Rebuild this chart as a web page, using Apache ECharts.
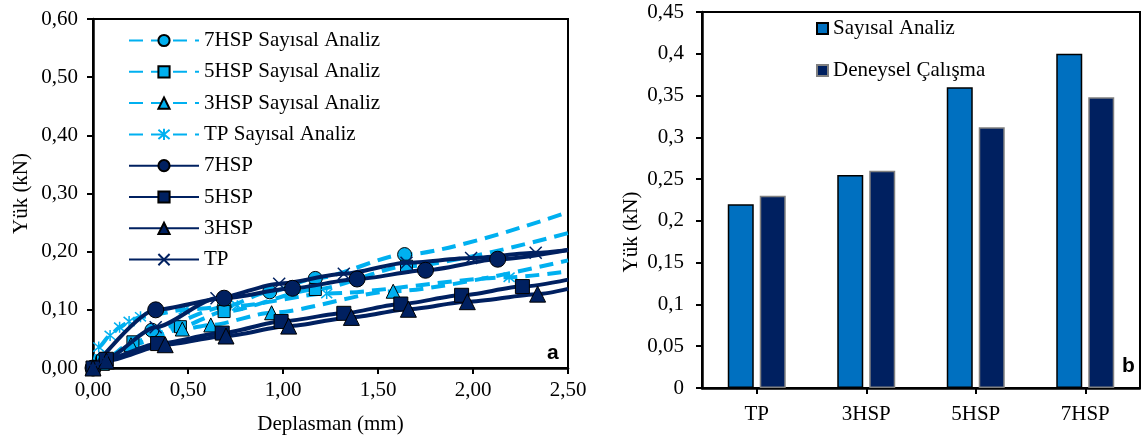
<!DOCTYPE html>
<html>
<head>
<meta charset="utf-8">
<script src="https://cdn.jsdelivr.net/npm/echarts@6/dist/echarts.min.js"></script>
<style>
html,body{margin:0;padding:0;background:#fff;}
#c{width:1141px;height:441px;}
</style>
</head>
<body>
<div id="c"></div>
<script>
// ---- Data ----
// Panel a: load (kN) vs displacement (mm)
const say7HSP = [[0,0],[0.05,0.015],[0.31,0.065],[0.69,0.105],[0.93,0.131],[1.17,0.154],[1.64,0.195],[2.5,0.268]];
const say5HSP = [[0,0],[0.05,0.012],[0.21,0.045],[0.46,0.071],[0.69,0.097],[1.17,0.135],[1.65,0.175],[2.5,0.232]];
const say3HSP = [[0,0],[0.05,0.008],[0.20,0.040],[0.47,0.067],[0.62,0.074],[0.94,0.095],[1.58,0.132],[2.5,0.185]];
const sayTP   = [[0,0],[0.03,0.036],[0.09,0.056],[0.14,0.070],[0.19,0.080],[0.25,0.088],[0.48,0.100],[0.76,0.107],[1.23,0.128],[2.19,0.156],[2.5,0.166]];
const exp7HSP = [[0,0],[0.33,0.100],[0.69,0.120],[1.05,0.137],[1.39,0.153],[1.75,0.168],[2.13,0.187],[2.5,0.203]];
const exp5HSP = [[0,0],[0.07,0.015],[0.34,0.042],[0.68,0.060],[0.99,0.080],[1.32,0.094],[1.62,0.110],[1.94,0.125],[2.26,0.140],[2.5,0.152]];
const exp3HSP = [[0,0],[0.07,0.012],[0.38,0.040],[0.70,0.055],[1.03,0.072],[1.36,0.087],[1.66,0.101],[1.97,0.114],[2.34,0.127],[2.5,0.136]];
const expTP   = [[0,0],[0.06,0.015],[0.33,0.070],[0.65,0.120],[0.98,0.145],[1.32,0.162],[1.65,0.181],[1.99,0.189],[2.33,0.198],[2.5,0.203]];

// Panel b: peak load (kN)
const categories = ['TP','3HSP','5HSP','7HSP'];
const sayisalAnaliz = [0.22,0.255,0.36,0.40];
const deneyselCalisma = [0.23,0.26,0.312,0.348];

// ---- Styles ----
const SERIF = '"Liberation Serif","Times New Roman",serif';
const FS = 21;
const LIGHT = '#00B0F0';
const NAVY = '#002060';
const XPATH = 'path://M0,0L10,10M10,0L0,10';
const STARPATH = 'path://M0,0L10,10M10,0L0,10M5,-1L5,11';

// last point (axis end) drawn without a marker
function pts(arr){
  return arr.map((p,i)=> i===arr.length-1 ? {value:p, symbol:'none'} : p);
}
function saySeries(name, data, symbol, size, isPath){
  return {
    name, type:'line', xAxisIndex:0, yAxisIndex:0, data:pts(data),
    smooth:0.25, smoothMonotone:'x', symbol, symbolSize:size, clip:true,
    lineStyle:{color:LIGHT, width:4, type:[14,8]},
    itemStyle: isPath ? {color:'rgba(0,0,0,0)', borderColor:LIGHT, borderWidth:1.5}
                      : {color:LIGHT, borderColor:'#000', borderWidth:1},
    z:2
  };
}
function expSeries(name, data, symbol, size, isPath){
  return {
    name, type:'line', xAxisIndex:0, yAxisIndex:0, data:pts(data),
    smooth:0.25, smoothMonotone:'x', symbol, symbolSize:size, clip:true,
    lineStyle:{color:NAVY, width:4, type:'solid'},
    itemStyle: isPath ? {color:'rgba(0,0,0,0)', borderColor:NAVY, borderWidth:1.5}
                      : {color:NAVY, borderColor:'#000', borderWidth:1},
    z:3
  };
}

const axisLbl = {color:'#000', fontFamily:SERIF, fontSize:FS};
const chart = echarts.init(document.getElementById('c'), null, {renderer:'canvas'});

chart.setOption({
  animation:false,
  backgroundColor:'#fff',
  grid:[
    {left:93, top:19, width:475, height:349, show:true, borderColor:'#000', borderWidth:2, backgroundColor:'transparent'},
    {left:702, top:12, width:438, height:376, show:true, borderColor:'#000', borderWidth:2, backgroundColor:'transparent'}
  ],
  xAxis:[
    {type:'value', gridIndex:0, min:0, max:2.5, interval:0.5,
     name:'Deplasman (mm)', nameLocation:'middle', nameGap:46,
     nameTextStyle:{color:'#000', fontFamily:SERIF, fontSize:FS},
     axisLine:{lineStyle:{color:'#000', width:2.5}},
     axisTick:{show:true, inside:false, length:6, lineStyle:{color:'#000', width:2}},
     axisLabel:Object.assign({margin:12, formatter:v=>v.toFixed(2).replace('.',',')}, axisLbl),
     splitLine:{show:false}},
    {type:'category', gridIndex:1, data:categories,
     axisLine:{lineStyle:{color:'#000', width:2.5}},
     axisTick:{show:true, alignWithLabel:true, length:6, lineStyle:{color:'#000', width:2}},
     axisLabel:Object.assign({margin:16}, axisLbl),
     splitLine:{show:false}}
  ],
  yAxis:[
    {type:'value', gridIndex:0, min:0, max:0.6, interval:0.1,
     name:'Yük (kN)', nameLocation:'middle', nameGap:61, nameMoveOverlap:false,
     nameTextStyle:{color:'#000', fontFamily:SERIF, fontSize:FS},
     axisLine:{show:true, lineStyle:{color:'#000', width:2.5}},
     axisTick:{show:true, length:6, lineStyle:{color:'#000', width:2}},
     axisLabel:Object.assign({margin:15, formatter:v=>v.toFixed(2).replace('.',',')}, axisLbl),
     splitLine:{show:false}},
    {type:'value', gridIndex:1, min:0, max:0.45, interval:0.05,
     name:'Yük (kN)', nameLocation:'middle', nameGap:60, nameMoveOverlap:false,
     nameTextStyle:{color:'#000', fontFamily:SERIF, fontSize:FS, padding:[0,64,0,0]},
     axisLine:{show:true, lineStyle:{color:'#000', width:2.5}},
     axisTick:{show:true, length:6, lineStyle:{color:'#000', width:2}},
     axisLabel:Object.assign({margin:18, formatter:v=>v===0?'0':String(+v.toFixed(2)).replace('.',',')}, axisLbl),
     splitLine:{show:false}}
  ],
  legend:[
    {orient:'vertical', left:123, top:25, itemWidth:70, itemHeight:14, itemGap:10.3,
     textStyle:{color:'#000', fontFamily:SERIF, fontSize:FS, lineHeight:21},
     data:['7HSP Sayısal Analiz','5HSP Sayısal Analiz','3HSP Sayısal Analiz','TP Sayısal Analiz','7HSP','5HSP','3HSP','TP']},
    {orient:'vertical', left:811, top:13, itemWidth:11, itemHeight:11, itemGap:21, icon:'rect',
     textStyle:{color:'#000', fontFamily:SERIF, fontSize:FS, lineHeight:21},
     data:['Sayısal Analiz','Deneysel Çalışma']}
  ],
  graphic:[
    {type:'text', left:547, top:343, style:{text:'a', font:'bold 21px "Liberation Sans", Arial, sans-serif', fill:'#000'}},
    {type:'text', left:1122, top:356, style:{text:'b', font:'bold 21px "Liberation Sans", Arial, sans-serif', fill:'#000'}}
  ],
  series:[
    saySeries('7HSP Sayısal Analiz', say7HSP, 'circle', 14),
    saySeries('5HSP Sayısal Analiz', say5HSP, 'rect', 12),
    saySeries('3HSP Sayısal Analiz', say3HSP, 'triangle', 14),
    saySeries('TP Sayısal Analiz', sayTP, STARPATH, 11, true),
    expSeries('7HSP', exp7HSP, 'circle', 16),
    expSeries('5HSP', exp5HSP, 'rect', 14),
    expSeries('3HSP', exp3HSP, 'triangle', 16),
    expSeries('TP', expTP, XPATH, 12, true),
    {name:'Sayısal Analiz', type:'bar', xAxisIndex:1, yAxisIndex:1, data:sayisalAnaliz,
     barWidth:26, barGap:'23%',
     itemStyle:{color:'#0070C0', borderColor:'#000', borderWidth:1.5}},
    {name:'Deneysel Çalışma', type:'bar', xAxisIndex:1, yAxisIndex:1, data:deneyselCalisma,
     barWidth:26, barGap:'23%',
     itemStyle:{color:NAVY, borderColor:'#808080', borderWidth:1.5}}
  ]
});
</script>
</body>
</html>
